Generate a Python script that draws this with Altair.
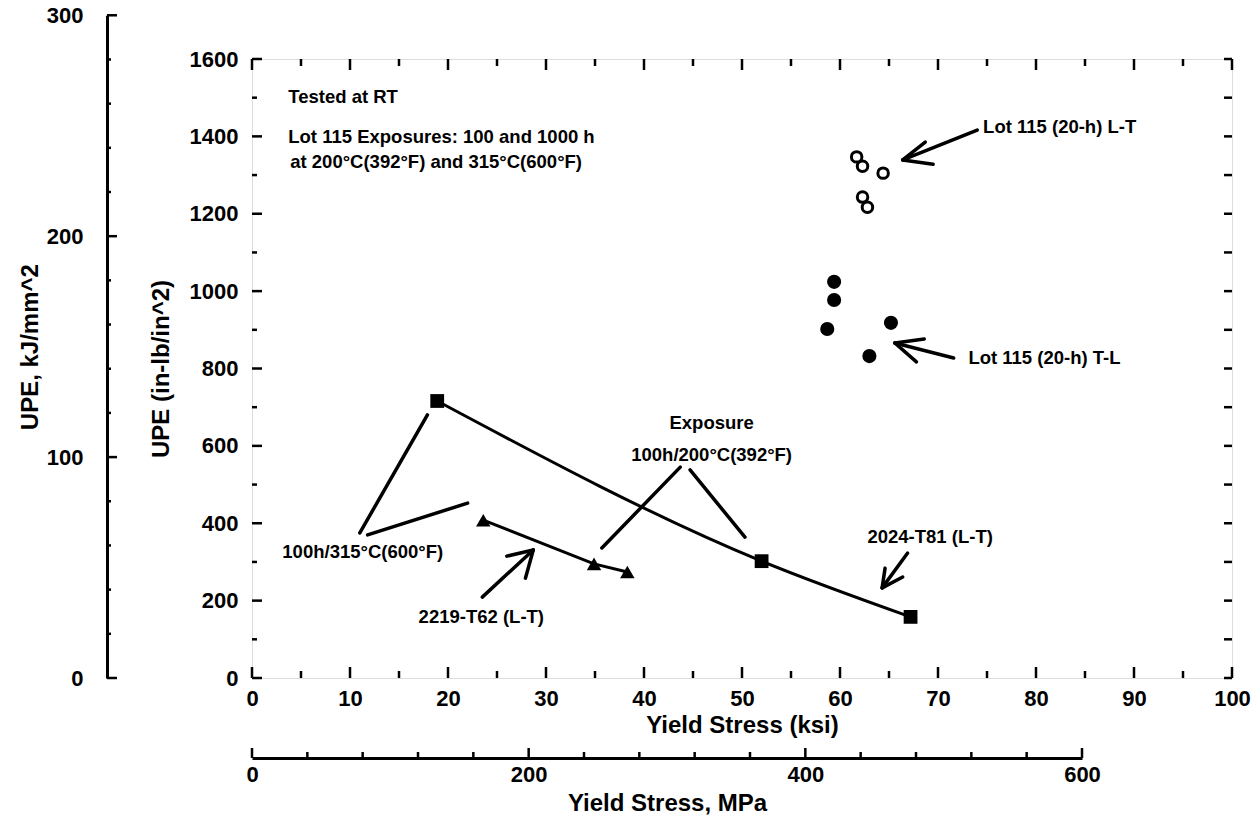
import altair as alt
import pandas as pd

# ---- measured data -------------------------------------------------------
# 2024-T81 (L-T): yield stress (ksi) vs unit propagation energy (in-lb/in^2)
t81_ksi = [18.9, 52.0, 67.2]
t81_upe = [716, 302, 158]
# 2219-T62 (L-T)
t62_ksi = [23.6, 34.9, 38.3]
t62_upe = [408, 295, 274]
# Lot 115 (20-h) L-T
lt_ksi = [61.7, 62.3, 64.4, 62.3, 62.8]
lt_upe = [1347, 1323, 1305, 1243, 1217]
# Lot 115 (20-h) T-L
tl_ksi = [59.4, 59.4, 58.7, 65.2, 63.0]
tl_upe = [1024, 977, 902, 918, 832]

# ---- annotation text (anchor in data units) ------------------------------
note_left_text = ["Tested at RT",
                  "Lot 115 Exposures: 100 and 1000 h",
                  "at 200°C(392°F) and 315°C(600°F)",
                  "Lot 115 (20-h) L-T",
                  "Lot 115 (20-h) T-L"]
note_left_ksi = [3.7, 3.7, 3.9, 74.6, 73.1]
note_left_upe = [1502, 1398, 1334, 1424, 827]

note_mid_text = ["Exposure", "100h/200°C(392°F)", "100h/315°C(600°F)",
                 "2219-T62 (L-T)", "2024-T81 (L-T)"]
note_mid_ksi = [46.9, 46.9, 11.3, 23.4, 69.2]
note_mid_upe = [659, 576, 326, 158, 364]

# leader lines and arrows: start (ksi, upe) -> end (ksi2, upe2)
seg_ksi = [74.0, 66.4, 66.4, 71.6, 65.6, 65.6, 23.5, 28.7, 28.7,
           66.9, 64.3, 64.3, 43.7, 44.7, 11.0, 11.8]
seg_upe = [1416, 1339, 1339, 827, 866, 866, 209, 331, 331,
           323, 233, 233, 545, 538, 375, 370]
seg_ksi2 = [66.4, 68.7, 69.5, 65.6, 68.6, 67.8, 28.7, 26.0, 27.9,
            64.3, 64.6, 66.4, 35.7, 50.3, 17.9, 22.0]
seg_upe2 = [1339, 1385, 1328, 866, 876, 817, 331, 315, 258,
            233, 284, 261, 336, 364, 680, 452]

# ---- axis tick values ----------------------------------------------------
ksi_major = list(range(0, 101, 10))
ksi_minor = list(range(5, 100, 10))
upe_major = list(range(0, 1601, 200))
upe_minor = list(range(100, 1600, 200))
upe_all = list(range(0, 1601, 100))
kj_major = [0, 100, 200, 300]
kj_minor = [v for v in range(20, 300, 20) if v % 100]
mpa_major = [0, 200, 400, 600]
mpa_minor = [v for v in range(40, 600, 40) if v % 200]

W, H = 980, 619
KJ_AT_TOP = 1600 * 0.17513          # 1600 in-lb/in^2 expressed in kJ/m^2
MPA_OFFSET, KJ_OFFSET = 80, 145
FONT = "Liberation Sans"

xs = alt.Scale(domain=[0, 100], nice=False, zero=False)
ys = alt.Scale(domain=[0, 1600], nice=False, zero=False)

x_axis = alt.Axis(values=ksi_major, format="d", title="Yield Stress (ksi)", ticks=False,
                  domain=False, grid=False, labelFontSize=22, labelFontWeight="bold",
                  labelPadding=10, labelFlush=False, labelOverlap=False,
                  titleFontSize=24, titleFontWeight="bold", titlePadding=4,
                  labelColor="black", titleColor="black")
y_axis = alt.Axis(values=upe_major, format="d", title="UPE  (in-lb/in^2)", ticks=False,
                  domain=False, grid=False, labelFontSize=22, labelFontWeight="bold",
                  labelPadding=14, labelFlush=False, labelOverlap=False,
                  titleFontSize=24, titleFontWeight="bold", titlePadding=16,
                  labelColor="black", titleColor="black")

X = alt.X("ksi:Q", scale=xs, axis=x_axis)
Y = alt.Y("upe:Q", scale=ys, axis=y_axis)
X2 = alt.X2("ksi2")
Y2 = alt.Y2("upe2")

t81 = pd.DataFrame({"ksi": t81_ksi, "upe": t81_upe})
t62 = pd.DataFrame({"ksi": t62_ksi, "upe": t62_upe})
lt = pd.DataFrame({"ksi": lt_ksi, "upe": lt_upe})
tl = pd.DataFrame({"ksi": tl_ksi, "upe": tl_upe})
segs = pd.DataFrame({"ksi": seg_ksi, "upe": seg_upe, "ksi2": seg_ksi2, "upe2": seg_upe2})
notes_l = pd.DataFrame({"ksi": note_left_ksi, "upe": note_left_upe, "t": note_left_text})
notes_c = pd.DataFrame({"ksi": note_mid_ksi, "upe": note_mid_upe, "t": note_mid_text})


def tick_rules(values, field, length, axis_ch, start, step_sign):
    """Inward-pointing tick marks placed through the chart's own scales."""
    df = pd.DataFrame({field: values})
    base = alt.Chart(df).mark_rule(color="black", strokeWidth=2.5)
    if axis_ch == "y":
        return base.encode(y=Y, x=alt.value(start),
                           x2=alt.value(start + step_sign * length))
    return base.encode(x=X, y=alt.value(start),
                       y2=alt.value(start + step_sign * length))


# frame ticks of the main panel
frame_ticks = [
    tick_rules(upe_major, "upe", 10, "y", 0, 1),
    tick_rules(upe_minor, "upe", 5, "y", 0, 1),
    tick_rules(upe_all, "upe", 8, "y", W, -1),
    tick_rules(ksi_major, "ksi", 11, "x", H, -1),
    tick_rules(ksi_minor, "ksi", 7, "x", H, -1),
    tick_rules(ksi_major, "ksi", 11, "x", 0, 1),
    tick_rules(ksi_minor, "ksi", 7, "x", 0, 1),
]

t81_line = alt.Chart(t81).mark_line(color="black", strokeWidth=3,
                                    interpolate="monotone").encode(x=X, y=Y)
t81_pts = alt.Chart(t81).mark_point(shape="square", filled=True, color="black",
                                    size=190, opacity=1).encode(x=X, y=Y)
t62_line = alt.Chart(t62).mark_line(color="black", strokeWidth=3).encode(x=X, y=Y)
t62_pts = alt.Chart(t62).mark_point(shape="triangle-up", filled=True, color="black",
                                    size=210, opacity=1).encode(x=X, y=Y)
lt_pts = alt.Chart(lt).mark_point(shape="circle", filled=False, color="black",
                                  fill="white", size=110, strokeWidth=3,
                                  opacity=1).encode(x=X, y=Y)
tl_pts = alt.Chart(tl).mark_point(shape="circle", filled=True, color="black",
                                  size=200, opacity=1).encode(x=X, y=Y)
leaders = alt.Chart(segs).mark_rule(color="black", strokeWidth=3.5,
                                    strokeCap="round").encode(x=X, y=Y, x2=X2, y2=Y2)
text_l = alt.Chart(notes_l).mark_text(align="left", baseline="middle", font=FONT,
                                      fontSize=18.5, fontWeight="bold",
                                      color="black").encode(x=X, y=Y, text="t:N")
text_c = alt.Chart(notes_c).mark_text(align="center", baseline="middle", font=FONT,
                                      fontSize=18.5, fontWeight="bold",
                                      color="black").encode(x=X, y=Y, text="t:N")

main = alt.layer(*frame_ticks, leaders, t81_line, t62_line, t81_pts, t62_pts,
                 lt_pts, tl_pts, text_l, text_c)

# secondary energy axis, kJ/m^2
kj_scale = alt.Scale(domain=[0, 300], range=[H, H - H * 300 / KJ_AT_TOP], nice=False)
kj_axis = alt.Axis(orient="left", offset=KJ_OFFSET, values=kj_major, format="d",
                   title="UPE, kJ/mm^2", ticks=False, domain=True, domainWidth=3,
                   domainColor="black", grid=False, labelFontSize=22,
                   labelFontWeight="bold", labelPadding=24, labelColor="black",
                   titleFontSize=24, titleFontWeight="bold", titlePadding=4,
                   titleColor="black", labelFlush=False, labelOverlap=False)
kj_y = alt.Y("kj:Q", scale=kj_scale, axis=kj_axis)
kj_major_rules = alt.Chart(pd.DataFrame({"kj": kj_major})).mark_rule(
    color="black", strokeWidth=2.5).encode(
    y=kj_y, x=alt.value(-KJ_OFFSET), x2=alt.value(-KJ_OFFSET + 10))
kj_minor_rules = alt.Chart(pd.DataFrame({"kj": kj_minor})).mark_rule(
    color="black", strokeWidth=2.5).encode(
    y=kj_y, x=alt.value(-KJ_OFFSET), x2=alt.value(-KJ_OFFSET + 4))
kj_group = alt.layer(kj_major_rules, kj_minor_rules)

# secondary stress axis, MPa
mpa_scale = alt.Scale(domain=[0, 600], range=[0, 830], nice=False)
mpa_axis = alt.Axis(orient="bottom", offset=MPA_OFFSET, values=mpa_major, format="d",
                    title="Yield Stress, MPa", ticks=False, domain=True, domainWidth=3,
                    domainColor="black", grid=False, labelFontSize=22,
                    labelFontWeight="bold", labelPadding=6, labelColor="black",
                    titleFontSize=24, titleFontWeight="bold", titlePadding=6,
                    titleColor="black", labelFlush=False, labelOverlap=False)
mpa_x = alt.X("mpa:Q", scale=mpa_scale, axis=mpa_axis)
mpa_major_rules = alt.Chart(pd.DataFrame({"mpa": mpa_major})).mark_rule(
    color="black", strokeWidth=2.5).encode(
    x=mpa_x, y=alt.value(H + MPA_OFFSET), y2=alt.value(H + MPA_OFFSET - 10))
mpa_minor_rules = alt.Chart(pd.DataFrame({"mpa": mpa_minor})).mark_rule(
    color="black", strokeWidth=2.5).encode(
    x=mpa_x, y=alt.value(H + MPA_OFFSET), y2=alt.value(H + MPA_OFFSET - 6))
mpa_group = alt.layer(mpa_major_rules, mpa_minor_rules)

chart = alt.layer(main, kj_group, mpa_group).resolve_scale(
    x="independent", y="independent"
).properties(
    width=W, height=H,
    autosize=alt.AutoSizeParams(type="none"),
    padding={"left": 252, "top": 59, "right": 27, "bottom": 145},
    background="white",
).configure_view(
    stroke="black", strokeWidth=3
).configure(font=FONT)

chart.save("out.html", embed_options={"renderer": "svg", "actions": False})
